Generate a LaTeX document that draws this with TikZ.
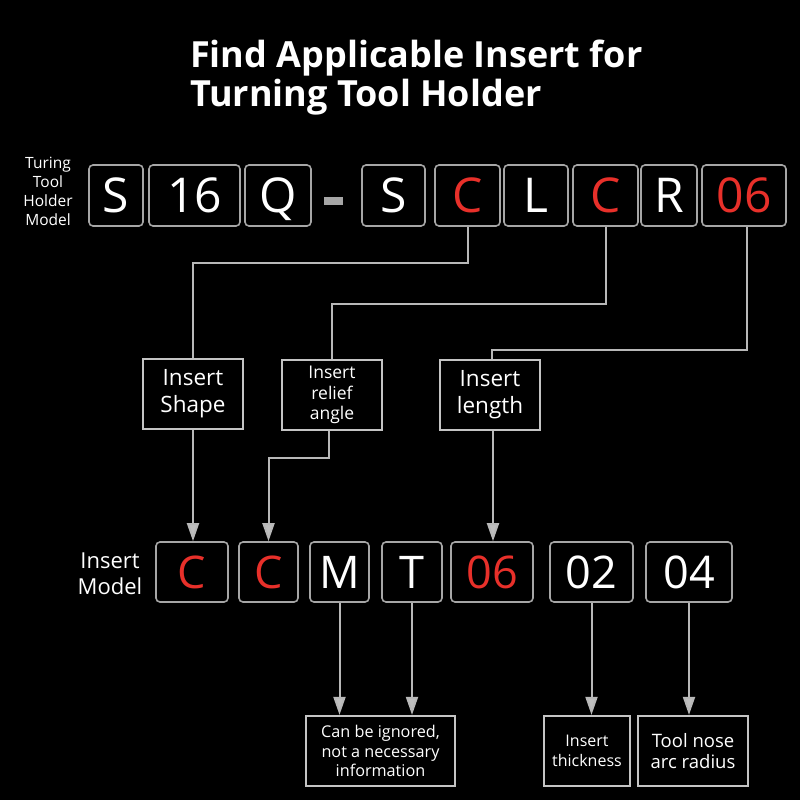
\documentclass[tikz,border=0pt]{standalone}
\usepackage{fontspec}
\setmainfont{Open Sans}
\usetikzlibrary{arrows.meta,calc}
\definecolor{myred}{HTML}{E8302A}
\definecolor{edgegray}{HTML}{A6A6A6}
\definecolor{wiregray}{HTML}{B8B8B8}
\definecolor{lblgray}{HTML}{C4C4C4}
\begin{document}
\begin{tikzpicture}[x=1pt,y=-1pt,
 codebox/.style={draw=edgegray, line width=1.6pt, rounded corners=4pt, fill=black, text=white,
   minimum height=61pt, inner sep=0pt, text height=34pt, text depth=0pt,
   font=\fontsize{48}{48}\selectfont},
 lowbox/.style={codebox, minimum height=60pt, text height=32pt, font=\fontsize{45}{45}\selectfont},
 redtxt/.style={text=myred},
 lblbox/.style={draw=lblgray, line width=2.2pt, fill=black, text=white, align=center, inner sep=0pt},
 plain/.style={text=white, align=center, inner sep=0pt},
 conn/.style={draw=wiregray, line width=2pt},
 arr/.style={conn, -{Triangle[length=18pt,width=12pt,fill=lightgray]}},
]
\fill[black] (0,0) rectangle (800,800);
\useasboundingbox (0,0) rectangle (800,800);

% title
\node[plain, anchor=base west, font=\fontsize{36}{43}\selectfont\bfseries] (title1) at (190,67) {Find Applicable Insert for};
\node[plain, anchor=base west, font=\fontsize{36}{43}\selectfont\bfseries] (title2) at (190,106) {Turning Tool Holder};

% holder model label
\node[plain, font=\fontsize{15.5}{19}\selectfont] (holderlbl) at (48,191) {Turing\\Tool\\Holder\\Model};

% top row
\node[codebox, minimum width=54pt] (t1) at (116,195.5) {S};
\node[codebox, minimum width=91pt] (t2) at (194.5,195.5) {16};
\node[codebox, minimum width=66pt] (t3) at (278,195.5) {Q};
\fill[edgegray] (324,197) rectangle (343,205);
\node[codebox, minimum width=63pt] (t4) at (393.5,195.5) {S};
\node[codebox, redtxt, minimum width=65pt] (t5) at (467.5,195.5) {C};
\node[codebox, minimum width=64pt] (t6) at (536,195.5) {L};
\node[codebox, redtxt, minimum width=65pt] (t7) at (605.5,195.5) {C};
\node[codebox, minimum width=56pt] (t8) at (669,195.5) {R};
\node[codebox, redtxt, minimum width=84pt] (t9) at (744,195.5) {06};

% middle label boxes
\node[lblbox, minimum width=100pt, minimum height=70pt, font=\fontsize{22.5}{27}\selectfont] (shape) at (193,394) {Insert\\Shape};
\node[lblbox, minimum width=100pt, minimum height=70pt, font=\fontsize{17.5}{20.5}\selectfont] (relief) at (332,395) {Insert\\relief\\angle};
\node[lblbox, minimum width=100pt, minimum height=70pt, font=\fontsize{22.5}{27}\selectfont] (length) at (490,395) {Insert\\length};

% insert model label
\node[plain, font=\fontsize{22}{26}\selectfont] (insertlbl) at (110,574) {Insert\\Model};

% bottom row
\node[lowbox, redtxt, minimum width=72pt] (b1) at (192,572) {C};
\node[lowbox, redtxt, minimum width=59pt] (b2) at (268.5,572) {C};
\node[lowbox, minimum width=59pt] (b3) at (339.5,572) {M};
\node[lowbox, minimum width=60pt] (b4) at (412,572) {T};
\node[lowbox, redtxt, minimum width=82pt] (b5) at (492,572) {06};
\node[lowbox, minimum width=83pt] (b6) at (591.5,572) {02};
\node[lowbox, minimum width=86pt] (b7) at (689,572) {04};

% bottom label boxes
\node[lblbox, minimum width=149pt, minimum height=70pt, font=\fontsize{16.2}{19.5}\selectfont] (ign) at (380.5,751) {Can be ignored,\\not a necessary\\information};
\node[lblbox, minimum width=86pt, minimum height=70pt, font=\fontsize{16}{19.5}\selectfont] (thick) at (587,751) {Insert\\thickness};
\node[lblbox, minimum width=110pt, minimum height=70pt, font=\fontsize{18.5}{21}\selectfont] (nose) at (693,751) {Tool nose\\arc radius};

% connectors top -> labels
\draw[conn] (t5.south) -- ++(0,36) -| (shape.north);
\draw[conn] (t7.south) -- ++(0,77) -| (relief.north);
\draw[conn] ([xshift=3pt]t9.south) -- ++(0,123) -| ([xshift=2pt]length.north);

% labels -> insert model
\draw[arr] (shape.south) -- (shape.south |- b1.north);
\draw[arr] ([xshift=-3pt]relief.south) -- ++(0,27) -| (b2.north);
\draw[arr] ([xshift=3pt]length.south) -- ([xshift=3pt]length.south |- b5.north);

% insert model -> notes
\draw[arr] (b3.south) -- (b3.south |- ign.north);
\draw[arr] (b4.south) -- (b4.south |- ign.north);
\draw[arr] (b6.south) -- (b6.south |- thick.north);
\draw[arr] (b7.south) -- (b7.south |- nose.north);
\end{tikzpicture}
\end{document}
